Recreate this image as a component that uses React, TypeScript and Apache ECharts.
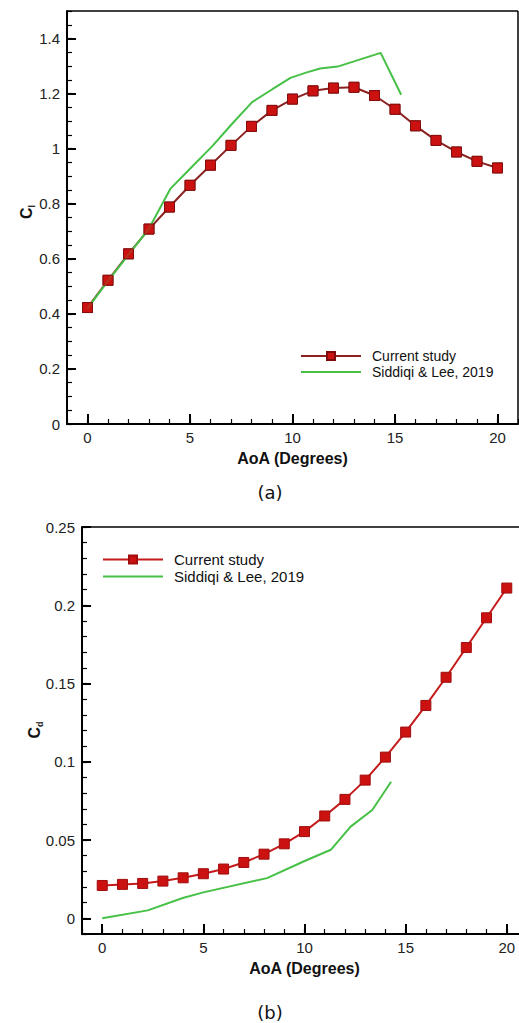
import React, { useEffect, useRef } from "react";
import * as echarts from "echarts";

// ---------- data ----------
const aoa = [0, 1, 2, 3, 4, 5, 6, 7, 8, 9, 10, 11, 12, 13, 14, 15, 16, 17, 18, 19, 20];
const clCurrent = [0.423, 0.522, 0.618, 0.708, 0.788, 0.867, 0.94, 1.012, 1.081, 1.139, 1.18, 1.21, 1.22, 1.223, 1.193, 1.143, 1.083, 1.03, 0.988, 0.954, 0.93];
const clRefAoa = [0, 1, 2, 3, 4.05, 5, 6.1, 7, 8.03, 9, 9.9, 10.7, 11.35, 12.2, 13, 14.3, 15.3];
const clRef = [0.42, 0.52, 0.615, 0.71, 0.855, 0.927, 1.01, 1.086, 1.169, 1.215, 1.257, 1.277, 1.291, 1.298, 1.317, 1.348, 1.196];
const cdCurrent = [0.021, 0.0217, 0.0223, 0.0238, 0.0259, 0.0285, 0.0315, 0.0357, 0.041, 0.0476, 0.0554, 0.0654, 0.076, 0.0883, 0.103, 0.119, 0.136, 0.154, 0.173, 0.192, 0.211];
const cdRefAoa = [0, 2.25, 3.98, 5, 8.15, 9.95, 11.3, 12.28, 13.35, 14.28];
const cdRef = [0, 0.0051, 0.013, 0.0166, 0.0257, 0.0363, 0.0438, 0.0586, 0.0692, 0.0873];

const xTickLabels = [0, 5, 10, 15, 20];
const clTickLabels = [0, 0.2, 0.4, 0.6, 0.8, 1, 1.2, 1.4];
const cdTickLabels = [0, 0.05, 0.1, 0.15, 0.2, 0.25];

const seriesNames = ["Current study", "Siddiqi & Lee, 2019"];

// ---------- styles ----------
const FONT = '"Liberation Sans", Arial, sans-serif';
const RED_FILL = "#cc1111";
const RED_BORDER = "#7d0c0c";
const GREEN = "#46c046";

function xAxes(nameGap: number) {
  return [
    {
      type: "value",
      min: -1,
      max: 21,
      interval: 1,
      axisLine: { show: true, onZero: false, lineStyle: { color: "#000", width: 2 } },
      axisTick: { show: true, inside: true, length: 5, lineStyle: { color: "#000", width: 1.2 } },
      axisLabel: { show: false },
      splitLine: { show: false },
    },
    {
      type: "value",
      min: -1,
      max: 21,
      position: "bottom",
      axisLine: { show: false, onZero: false },
      axisTick: { show: true, inside: true, length: 10, customValues: xTickLabels, lineStyle: { color: "#000", width: 2 } },
      axisLabel: { show: true, customValues: xTickLabels, fontSize: 15, color: "#222", fontFamily: FONT, margin: 6 },
      splitLine: { show: false },
      name: "AoA (Degrees)",
      nameLocation: "middle",
      nameGap,
      nameTextStyle: { fontSize: 16, fontWeight: "bold", fontFamily: FONT, color: "#111" },
    },
  ];
}

function yAxes(min: number, max: number, minor: number, labels: number[]) {
  return [
    {
      type: "value",
      min,
      max,
      interval: minor,
      axisLine: { show: true, onZero: false, lineStyle: { color: "#000", width: 2 } },
      axisTick: { show: true, inside: true, length: 5, lineStyle: { color: "#000", width: 1.2 } },
      axisLabel: { show: false },
      splitLine: { show: false },
    },
    {
      type: "value",
      min,
      max,
      position: "left",
      axisLine: { show: false, onZero: false },
      axisTick: { show: true, inside: true, length: 9, customValues: labels, lineStyle: { color: "#000", width: 2 } },
      axisLabel: { show: true, customValues: labels, fontSize: 15, color: "#222", fontFamily: FONT, margin: 7 },
      splitLine: { show: false },
    },
  ];
}

function yTitle(x: number, y: number, sub: string) {
  return {
    type: "text",
    x,
    y,
    rotation: Math.PI / 2,
    style: {
      text: "{c|C}{s|" + sub + "}",
      align: "center",
      verticalAlign: "middle",
      rich: {
        c: { fontSize: 16, fontWeight: "bold", fontFamily: FONT, fill: "#111", lineHeight: 20 },
        s: { fontSize: 9, fontWeight: "bold", fontFamily: FONT, fill: "#111", lineHeight: 9, verticalAlign: "bottom" },
      },
    },
  };
}

function frameLine(x1: number, y1: number, x2: number, y2: number) {
  return { type: "line", silent: true, shape: { x1, y1, x2, y2 }, style: { stroke: "#000", lineWidth: 1.5 } };
}

function legend(left: number, top: number, fontSize: number) {
  return {
    data: seriesNames,
    orient: "vertical",
    left,
    top,
    padding: 0,
    itemWidth: 60,
    itemHeight: 10,
    itemGap: 2,
    selectedMode: false,
    textStyle: { fontSize, fontFamily: FONT, color: "#111", padding: [0, 0, 0, 6] },
  };
}

function pairs(xs: number[], ys: number[]) {
  return xs.map((x, i) => [x, ys[i]]);
}

function buildTop() {
  return {
    animation: false,
    grid: { left: 67, top: 11, width: 451, height: 413, show: false },
    xAxis: xAxes(26),
    yAxis: yAxes(0, 1.5, 0.05, clTickLabels),
    legend: legend(300, 349, 14),
    series: [
      {
        name: seriesNames[0],
        type: "line",
        xAxisIndex: 0,
        yAxisIndex: 0,
        data: pairs(aoa, clCurrent),
        symbol: "rect",
        symbolSize: 10,
        itemStyle: { color: RED_FILL, borderColor: RED_BORDER, borderWidth: 1 },
        lineStyle: { color: "#8b2020", width: 2 },
        z: 2,
      },
      {
        name: seriesNames[1],
        type: "line",
        xAxisIndex: 0,
        yAxisIndex: 0,
        data: pairs(clRefAoa, clRef),
        symbol: "none",
        itemStyle: { color: GREEN, opacity: 0 },
        lineStyle: { color: GREEN, width: 2 },
        z: 3,
      },
      {
        name: "markers",
        type: "scatter",
        xAxisIndex: 0,
        yAxisIndex: 0,
        data: pairs(aoa, clCurrent),
        symbol: "rect",
        symbolSize: 10,
        itemStyle: { color: RED_FILL, borderColor: RED_BORDER, borderWidth: 1 },
        z: 4,
      },
    ],
    graphic: [
      frameLine(67, 11, 518, 11),
      frameLine(518, 11, 518, 424),
      yTitle(26, 212, "l"),
      {
        type: "text",
        x: 270,
        y: 492,
        style: { text: "(a)", align: "center", verticalAlign: "middle", fontSize: 18, fontFamily: '"DejaVu Sans", sans-serif', fill: "#111" },
      },
    ],
  };
}

function buildBottom() {
  return {
    animation: false,
    grid: { left: 82, top: 22, width: 445, height: 407, show: false },
    xAxis: xAxes(26),
    yAxis: yAxes(-0.01, 0.25, 0.01, cdTickLabels),
    legend: legend(102, 47, 15),
    series: [
      {
        name: seriesNames[0],
        type: "line",
        xAxisIndex: 0,
        yAxisIndex: 0,
        data: pairs(aoa, cdCurrent),
        symbol: "rect",
        symbolSize: 10,
        itemStyle: { color: RED_FILL, borderColor: "#a00d0d", borderWidth: 1 },
        lineStyle: { color: "#c41a1a", width: 2 },
        z: 3,
      },
      {
        name: seriesNames[1],
        type: "line",
        xAxisIndex: 0,
        yAxisIndex: 0,
        data: pairs(cdRefAoa, cdRef),
        symbol: "none",
        itemStyle: { color: GREEN, opacity: 0 },
        lineStyle: { color: GREEN, width: 2 },
        z: 2,
      },
    ],
    graphic: [
      frameLine(82, 22, 527, 22),
      yTitle(34, 225, "d"),
      {
        type: "text",
        x: 270,
        y: 507,
        style: { text: "(b)", align: "center", verticalAlign: "middle", fontSize: 18, fontFamily: '"DejaVu Sans", sans-serif', fill: "#111" },
      },
    ],
  };
}

export default function App() {
  const topRef = useRef<HTMLDivElement>(null);
  const botRef = useRef<HTMLDivElement>(null);
  useEffect(() => {
    const c1 = echarts.init(topRef.current!, null, { renderer: "svg" });
    c1.setOption(buildTop() as any);
    const c2 = echarts.init(botRef.current!, null, { renderer: "svg" });
    c2.setOption(buildBottom() as any);
    return () => {
      c1.dispose();
      c2.dispose();
    };
  }, []);
  return (
    <div style={{ position: "absolute", left: 0, top: 0, width: 519, height: 1023, overflow: "hidden", background: "#fff" }}>
      <div ref={topRef} style={{ position: "absolute", left: 0, top: 0, width: 519, height: 505 }} />
      <div ref={botRef} style={{ position: "absolute", left: 0, top: 505, width: 545, height: 518 }} />
    </div>
  );
}
